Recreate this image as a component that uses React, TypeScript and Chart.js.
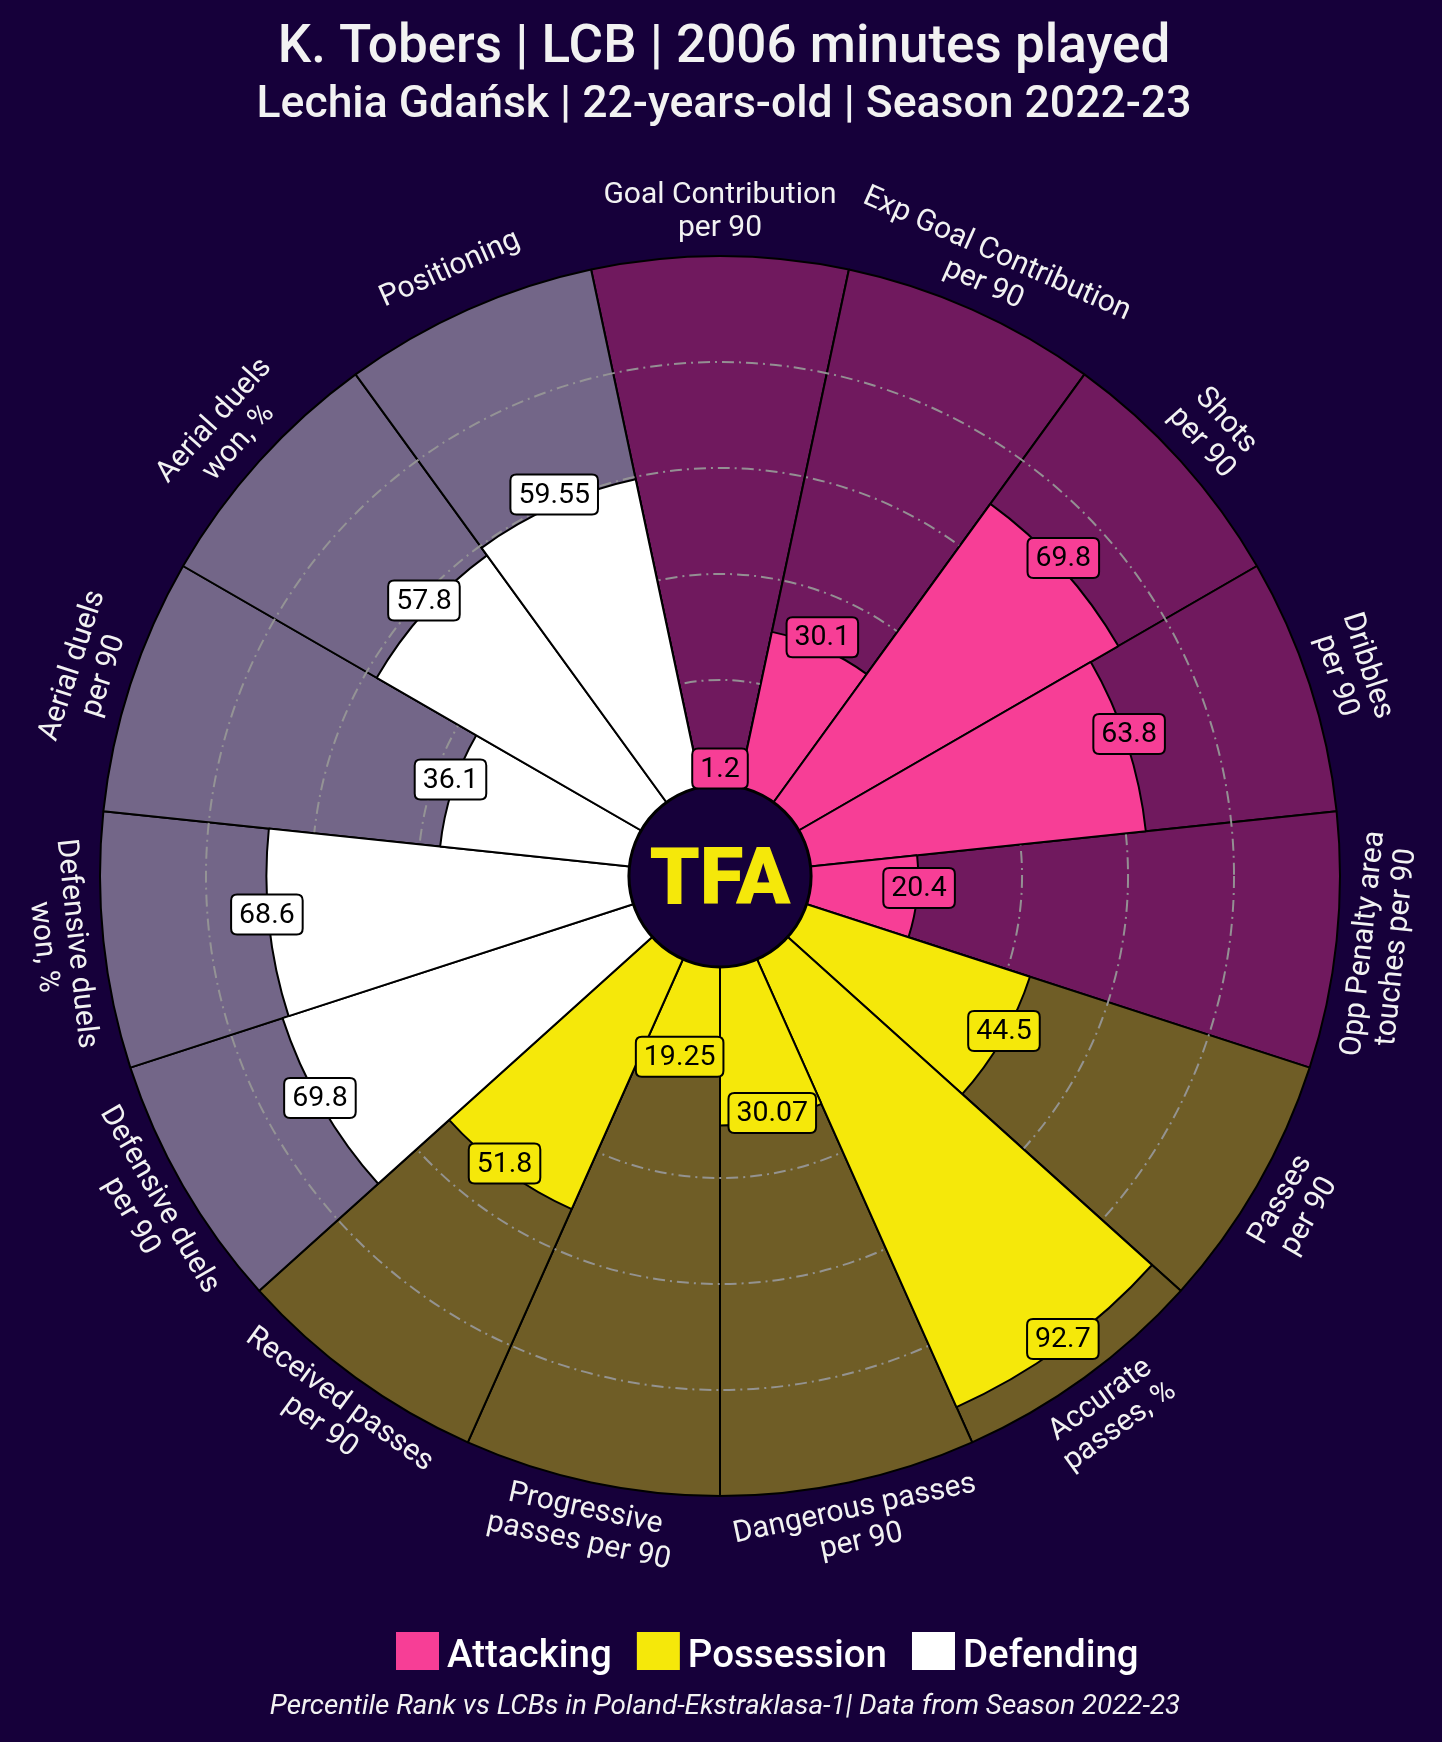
import React, { useEffect, useRef } from 'react';
import { Chart, registerables } from 'chart.js';

Chart.register(...registerables);

// ---------------- data ----------------
const categoryLines: string[][] = [
  ['Goal Contribution', 'per 90'],
  ['Exp Goal Contribution', 'per 90'],
  ['Shots', 'per 90'],
  ['Dribbles', 'per 90'],
  ['Opp Penalty area', 'touches per 90'],
  ['Passes', 'per 90'],
  ['Accurate', 'passes, %'],
  ['Dangerous passes', 'per 90'],
  ['Progressive', 'passes per 90'],
  ['Received passes', 'per 90'],
  ['Defensive duels', 'per 90'],
  ['Defensive duels', 'won, %'],
  ['Aerial duels', 'per 90'],
  ['Aerial duels', 'won, %'],
  ['Positioning'],
];
const values = [1.2, 30.1, 69.8, 63.8, 20.4, 44.5, 92.7, 30.07, 19.25, 51.8, 69.8, 68.6, 36.1, 57.8, 59.55];
const valueLabels = ['1.2', '30.1', '69.8', '63.8', '20.4', '44.5', '92.7', '30.07', '19.25', '51.8', '69.8', '68.6', '36.1', '57.8', '59.55'];
const groups = [
  'Attacking', 'Attacking', 'Attacking', 'Attacking', 'Attacking',
  'Possession', 'Possession', 'Possession', 'Possession', 'Possession',
  'Defending', 'Defending', 'Defending', 'Defending', 'Defending',
];
const legendGroups = ['Attacking', 'Possession', 'Defending'];
const gridValues = [20, 40, 60, 80];
const maxValue = 100;
const titleText = 'K. Tobers | LCB | 2006 minutes played';
const subtitleText = 'Lechia Gdańsk | 22-years-old | Season 2022-23';
const footerText = 'Percentile Rank vs LCBs in Poland-Ekstraklasa-1| Data from Season 2022-23';
const logoText = 'TFA';

// ---------------- styles ----------------
const BG = '#16003a';
const TEXT = '#F2F2F2';
const groupColor: Record<string, string> = {
  Attacking: '#f73e96',
  Possession: '#f5e80a',
  Defending: '#ffffff',
};
const groupBgColor: Record<string, string> = {
  Attacking: 'rgba(247,62,150,0.4)',
  Possession: 'rgba(245,232,10,0.4)',
  Defending: 'rgba(255,255,255,0.4)',
};
const FONT = 'Roboto, "Noto Sans", sans-serif';

const W = 1442;
const H = 1742;

function roundRect(ctx: CanvasRenderingContext2D, x: number, y: number, w: number, h: number, r: number) {
  ctx.beginPath();
  ctx.moveTo(x + r, y);
  ctx.lineTo(x + w - r, y);
  ctx.quadraticCurveTo(x + w, y, x + w, y + r);
  ctx.lineTo(x + w, y + h - r);
  ctx.quadraticCurveTo(x + w, y + h, x + w - r, y + h);
  ctx.lineTo(x + r, y + h);
  ctx.quadraticCurveTo(x, y + h, x, y + h - r);
  ctx.lineTo(x, y + r);
  ctx.quadraticCurveTo(x, y, x + r, y);
  ctx.closePath();
}

const pizzaPlugin = {
  id: 'pizza',
  beforeDraw(chart: any) {
    const ctx: CanvasRenderingContext2D = chart.ctx;
    ctx.save();
    ctx.fillStyle = BG;
    ctx.fillRect(0, 0, chart.width, chart.height);
    ctx.restore();
  },
  beforeDatasetDraw(chart: any, args: any) {
    if (args.index !== 0) return;
    const r = chart.scales.r;
    const ctx: CanvasRenderingContext2D = chart.ctx;
    ctx.save();
    ctx.strokeStyle = 'rgba(150,150,150,0.95)';
    ctx.lineWidth = 2;
    ctx.setLineDash([12, 5, 2, 5]);
    for (const v of gridValues) {
      const d = r.getDistanceFromCenterForValue(v);
      ctx.beginPath();
      ctx.arc(r.xCenter, r.yCenter, d, 0, Math.PI * 2);
      ctx.stroke();
    }
    ctx.restore();
  },
  afterDatasetsDraw(chart: any) {
    const r = chart.scales.r;
    const ctx: CanvasRenderingContext2D = chart.ctx;
    const cx = r.xCenter;
    const cy = r.yCenter;

    // center circle + logo
    const r0 = r.getDistanceFromCenterForValue(0);
    ctx.save();
    ctx.beginPath();
    ctx.arc(cx, cy, r0 + 1, 0, Math.PI * 2);
    ctx.fillStyle = BG;
    ctx.fill();
    ctx.lineWidth = 3;
    ctx.strokeStyle = '#000';
    ctx.stroke();
    ctx.fillStyle = '#f5e80a';
    ctx.font = `900 80px ${FONT}`;
    ctx.textAlign = 'center';
    ctx.textBaseline = 'alphabetic';
    ctx.fillText(logoText, cx, cy + 28);
    ctx.restore();

    const valMeta = chart.getDatasetMeta(0);
    const bgMeta = chart.getDatasetMeta(1);

    // value boxes
    ctx.save();
    ctx.font = `400 28.5px ${FONT}`;
    ctx.textAlign = 'center';
    ctx.textBaseline = 'middle';
    valMeta.data.forEach((arc: any, i: number) => {
      const p = arc.getProps(['startAngle', 'endAngle', 'outerRadius', 'x', 'y'], true);
      const mid = (p.startAngle + p.endAngle) / 2;
      const rad = p.outerRadius + 2;
      const x = p.x + Math.cos(mid) * rad;
      const y = p.y + Math.sin(mid) * rad - 9;
      const tw = ctx.measureText(valueLabels[i]).width;
      const bw = tw + 16;
      const bh = 40;
      roundRect(ctx, x - bw / 2, y - bh / 2, bw, bh, 6);
      ctx.fillStyle = groupColor[groups[i]];
      ctx.fill();
      ctx.lineWidth = 2;
      ctx.strokeStyle = '#000';
      ctx.stroke();
      ctx.fillStyle = '#000';
      ctx.fillText(valueLabels[i], x, y + 1);
    });
    ctx.restore();

    // category labels
    ctx.save();
    ctx.font = `400 30px ${FONT}`;
    ctx.fillStyle = TEXT;
    ctx.textAlign = 'center';
    ctx.textBaseline = 'middle';
    bgMeta.data.forEach((arc: any, i: number) => {
      const p = arc.getProps(['startAngle', 'endAngle', 'outerRadius', 'x', 'y'], true);
      const mid = (p.startAngle + p.endAngle) / 2;
      const rad = p.outerRadius + 44;
      const x = p.x + Math.cos(mid) * rad;
      const y = p.y + Math.sin(mid) * rad;
      let theta = mid + Math.PI / 2; // clockwise from top
      while (theta > Math.PI) theta -= 2 * Math.PI;
      while (theta < -Math.PI) theta += 2 * Math.PI;
      let rot = theta;
      if (theta > Math.PI / 2 + 1e-6) rot = theta - Math.PI;
      else if (theta < -Math.PI / 2 - 1e-6) rot = theta + Math.PI;
      const lines = categoryLines[i];
      const lh = 33;
      ctx.save();
      ctx.translate(x, y);
      ctx.rotate(rot);
      lines.forEach((ln, k) => {
        ctx.fillText(ln, 0, (k - (lines.length - 1) / 2) * lh);
      });
      ctx.restore();
    });
    ctx.restore();
  },
  afterDraw(chart: any) {
    const ctx: CanvasRenderingContext2D = chart.ctx;
    ctx.save();
    ctx.fillStyle = TEXT;
    ctx.textAlign = 'center';
    ctx.textBaseline = 'alphabetic';
    ctx.font = `500 53px ${FONT}`;
    ctx.fillText(titleText, 724, 62);
    ctx.font = `500 44.5px ${FONT}`;
    ctx.fillText(subtitleText, 724, 117);

    // footer
    ctx.font = `italic 400 27.8px ${FONT}`;
    ctx.fillText(footerText, 725, 1714);

    // legend
    ctx.font = `500 38.5px ${FONT}`;
    ctx.textAlign = 'left';
    let x = 396;
    legendGroups.forEach((g) => {
      ctx.fillStyle = groupColor[g];
      ctx.fillRect(x, 1632, 43, 38);
      x += 43 + 8;
      ctx.fillStyle = '#ffffff';
      ctx.fillText(g, x, 1667);
      x += ctx.measureText(g).width + 25;
    });
    ctx.restore();
  },
};

export default function App() {
  const canvasRef = useRef<HTMLCanvasElement | null>(null);

  useEffect(() => {
    const canvas = canvasRef.current;
    if (!canvas) return;
    const chart = new Chart(canvas, {
      type: 'polarArea',
      data: {
        labels: categoryLines.map((l) => l.join(' ')),
        datasets: [
          {
            label: 'values',
            data: values,
            backgroundColor: groups.map((g) => groupColor[g]),
            borderColor: '#000000',
            borderWidth: 2,
          },
          {
            label: 'background',
            data: values.map(() => maxValue),
            backgroundColor: groups.map((g) => groupBgColor[g]),
            borderColor: '#000000',
            borderWidth: 2,
          },
        ],
      },
      options: {
        responsive: false,
        animation: false,
        devicePixelRatio: 1,
        layout: { padding: { left: 100.5, right: 101.5, top: 256, bottom: 246 } },
        plugins: {
          legend: { display: false },
          tooltip: { enabled: false },
          title: { display: false },
        },
        scales: {
          r: {
            min: -17,
            max: maxValue,
            startAngle: -12,
            ticks: { display: false },
            grid: { display: false },
            angleLines: { display: false },
            pointLabels: { display: false },
          },
        },
      } as any,
      plugins: [pizzaPlugin as any],
    });
    return () => chart.destroy();
  }, []);

  return (
    <div style={{ position: 'absolute', left: 0, top: 0, width: W, height: H, background: BG }}>
      <canvas ref={canvasRef} width={W} height={H} style={{ display: 'block', width: W, height: H }} />
    </div>
  );
}
